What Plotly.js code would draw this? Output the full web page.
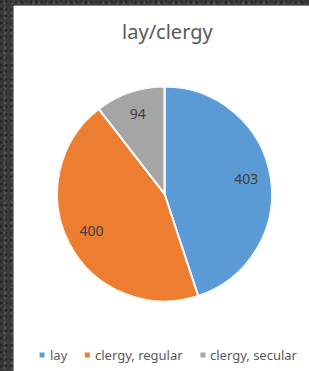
<!DOCTYPE html>
<html>
<head>
<meta charset="utf-8">
<script src="https://cdn.plot.ly/plotly-3.0.1.min.js"></script>
<style>
  html, body { margin:0; padding:0; width:309px; height:371px; overflow:hidden;
    background-color: #3a3a3a;
    background-image:
      radial-gradient(circle at 20% 30%, rgba(0,0,0,0.35) 0 1px, transparent 2px),
      radial-gradient(circle at 70% 60%, rgba(255,255,255,0.12) 0 1px, transparent 2px);
    background-size: 5px 7px, 7px 5px; }
  #chart { position:absolute; left:14px; top:6px; width:295px; height:365px;
    box-shadow: -1px 0 0 #8a8a8a, 0 -1px 0 #8a8a8a; }
</style>
</head>
<body>
<div id="chart"></div>
<script>
var categories = ["lay", "clergy, regular", "clergy, secular"];
var counts = [403, 400, 94];
var colors = ["#5B9BD5", "#ED7D31", "#A5A5A5"];
var chartTitle = "lay/clergy";

var W = 295, H = 365;

// slice geometry from the data (degrees, clockwise from 12 o'clock)
var total = counts.reduce(function(a, b){ return a + b; }, 0);
var widths = counts.map(function(v){ return v / total * 360; });
var centers = [];
var acc = 0;
for (var i = 0; i < counts.length; i++) { centers.push(acc + widths[i] / 2); acc += widths[i]; }

var pieDomain = { x: [0.1458, 0.8746], y: [0.189, 0.781] };

var slices = {
  type: "barpolar",
  r: counts.map(function(){ return 1; }),
  theta: centers,
  width: widths,
  base: 0,
  marker: { color: colors, line: { color: "#ffffff", width: 2 } },
  text: categories,
  hoverinfo: "text",
  showlegend: false
};

var labels = {
  type: "scatterpolar",
  mode: "text",
  r: counts.map(function(){ return 0.77; }),
  theta: centers,
  text: counts.map(String),
  textposition: "middle center",
  textfont: { family: "Noto Sans, sans-serif", size: 14, color: "#404040" },
  hoverinfo: "skip",
  showlegend: false
};

// legend laid out from the category names
var legendFontSize = 13;
var legendFont = "Noto Sans";
var cnv = document.createElement("canvas").getContext("2d");
cnv.font = legendFontSize + 'px "' + legendFont + '"';
var markSize = 5, markToText = 8, itemGap = 20;
var itemW = categories.map(function(c){ return markToText + cnv.measureText(c).width; });
var legendTotal = itemW.reduce(function(a, b){ return a + b; }, 0) + itemGap * (categories.length - 1);
var legendCx = 153.5, legendCy = 349;
var cursor = legendCx - legendTotal / 2;
var shapes = [], annotations = [];
for (var k = 0; k < categories.length; k++) {
  shapes.push({ type: "rect", xref: "paper", yref: "paper",
    x0: cursor / W, x1: (cursor + markSize) / W,
    y0: 1 - (legendCy + markSize / 2) / H, y1: 1 - (legendCy - markSize / 2) / H,
    fillcolor: colors[k], line: { width: 0 } });
  annotations.push({ xref: "paper", yref: "paper", x: (cursor + markToText) / W,
    y: 1 - legendCy / H, xanchor: "left", yanchor: "middle", showarrow: false,
    text: categories[k], font: { family: legendFont + ", sans-serif", size: legendFontSize, color: "#595959" } });
  cursor += itemW[k] + itemGap;
}

var layout = {
  width: W, height: H,
  margin: { l: 0, r: 0, t: 0, b: 0 },
  paper_bgcolor: "#ffffff",
  title: { text: chartTitle, x: 0.52, xanchor: "center", y: 0.929, yanchor: "middle",
    font: { family: "Noto Sans, sans-serif", size: 20, color: "#595959" } },
  showlegend: false,
  polar: {
    domain: pieDomain,
    bgcolor: "rgba(0,0,0,0)",
    hole: 0,
    radialaxis: { range: [0, 1], visible: false },
    angularaxis: { rotation: 90, direction: "clockwise", visible: false }
  },
  shapes: shapes,
  annotations: annotations
};

Plotly.newPlot("chart", [slices, labels], layout, { displayModeBar: false, staticPlot: true });
</script>
</body>
</html>
